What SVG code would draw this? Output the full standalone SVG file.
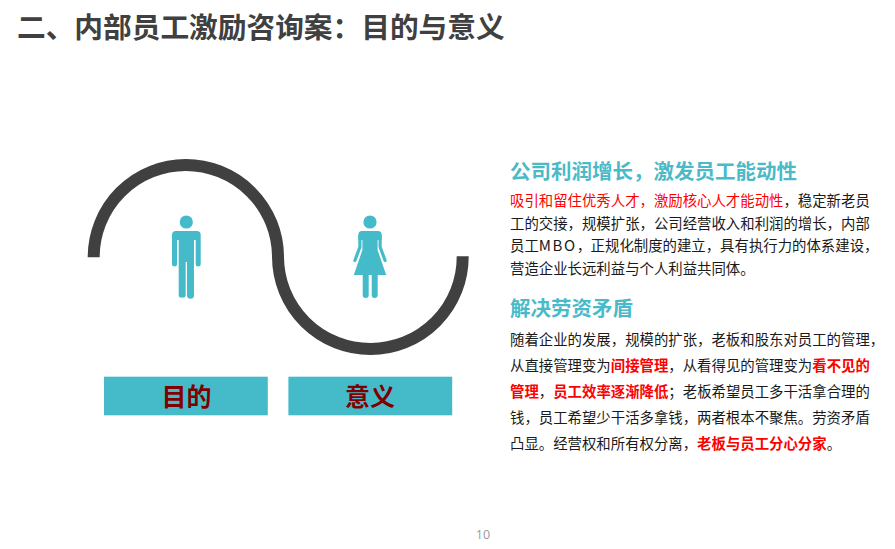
<svg xmlns="http://www.w3.org/2000/svg" width="895" height="549" viewBox="0 0 895 549">
<style>
text{font-family:"Noto Sans CJK SC","Noto Sans",sans-serif}
.title{font-size:28.7px;font-weight:700;fill:#404040}
.h{font-size:20.5px;font-weight:700;fill:#4abac9}
.b{font-size:14.4px;fill:#1a1a1a}
.r{fill:#f00}
.rb{fill:#f00;font-weight:700}
.label{font-size:25px;font-weight:700;fill:#7f0000;text-anchor:middle}
.bar{fill:#45bbca}
.fig{fill:#45bbca}
.arm{fill:none;stroke:#45bbca;stroke-width:3.2;stroke-linecap:round;stroke-linejoin:round}
.curve{fill:none;stroke:#404040;stroke-width:12}
</style>
<rect width="895" height="549" fill="#fff"/>
<text id="title" class="title" x="17" y="38">二、内部员工激励咨询案：目的与意义</text>
<g id="curve"><path class="curve" d="M93.7 257.3A92.1 92.1 0 0 1 278 257A92.3 92.3 0 0 0 462.7 256.3"/></g>
<g id="man" class="fig">
<circle cx="186.3" cy="222" r="6.6"/>
<path d="M176 231H196.7Q200.7 231 200.7 235V264.1A2.5 2.5 0 0 1 195.7 264.1V240H194V295.2A2.5 2.5 0 0 1 187 295.2V262H185.7V295.2A3.5 2.5 0 0 1 178.7 295.2V240H177V264.1A2.5 2.5 0 0 1 172 264.1V235Q172 231 176 231Z"/>
</g>
<g id="woman" class="fig">
<circle cx="370" cy="222" r="6.6"/>
<path d="M362 231H378Q381.7 231 381.7 235V240H358.3V235Q358.3 231 362 231Z"/>
<path d="M362.4 236H377.6V250L386.2 275H353.8L362.4 250Z"/>
<path class="arm" d="M359.9 236V247L354.9 260.5"/>
<path class="arm" d="M380.1 236V247L385.1 260.5"/>
<path d="M362.7 272H368.7V295A3 3 0 0 1 362.7 295ZM371.7 272H377.7V295A3 3 0 0 1 371.7 295Z"/>
</g>
<g id="node-mudi"><rect class="bar" x="104" y="376.7" width="163.8" height="38.6"/><text class="label" x="186.5" y="406">目的</text></g>
<g id="node-yiyi"><rect class="bar" x="288.4" y="376.7" width="163.8" height="38.6"/><text class="label" x="370" y="406">意义</text></g>
<g id="text-a">
<text class="h" x="510" y="179">公司利润增长，激发员工能动性</text>
<text class="b" x="510" y="205.5"><tspan class="r">吸引和留住优秀人才，激励核心人才能动性</tspan>，稳定新老员</text>
<text class="b" x="510" y="228.5">工的交接，规模扩张，公司经营收入和利润的增长，内部</text>
<text class="b" x="510" y="251">员工<tspan letter-spacing="1.6" font-size="15">MBO</tspan>，<tspan x="590.6">正规化制度的建立，具有执行力的体系建设，</tspan></text>
<text class="b" x="510" y="273.5">营造企业长远利益与个人利益共同体。</text>
</g>
<g id="text-b">
<text class="h" x="510" y="316">解决劳资矛盾</text>
<text class="b" x="510" y="345">随着企业的发展，规模的扩张，老板和股东对员工的管理，</text>
<text class="b" x="510" y="371">从直接管理变为<tspan class="rb">间接管理</tspan>，从看得见的管理变为<tspan class="rb">看不见的</tspan></text>
<text class="b" x="510" y="397"><tspan class="rb">管理</tspan>，<tspan class="rb">员工效率逐渐降低</tspan>；老板希望员工多干活拿合理的</text>
<text class="b" x="510" y="422.5">钱，员工希望少干活多拿钱，两者根本不聚焦。劳资矛盾</text>
<text class="b" x="510" y="448.5">凸显。经营权和所有权分离，<tspan class="rb">老板与员工分心分家</tspan>。</text>
</g>
<text id="page" x="483" y="539" font-size="12.5" fill="#999" opacity="0.99" text-anchor="middle" style="font-family:'Open Sans',sans-serif">10</text>
</svg>
